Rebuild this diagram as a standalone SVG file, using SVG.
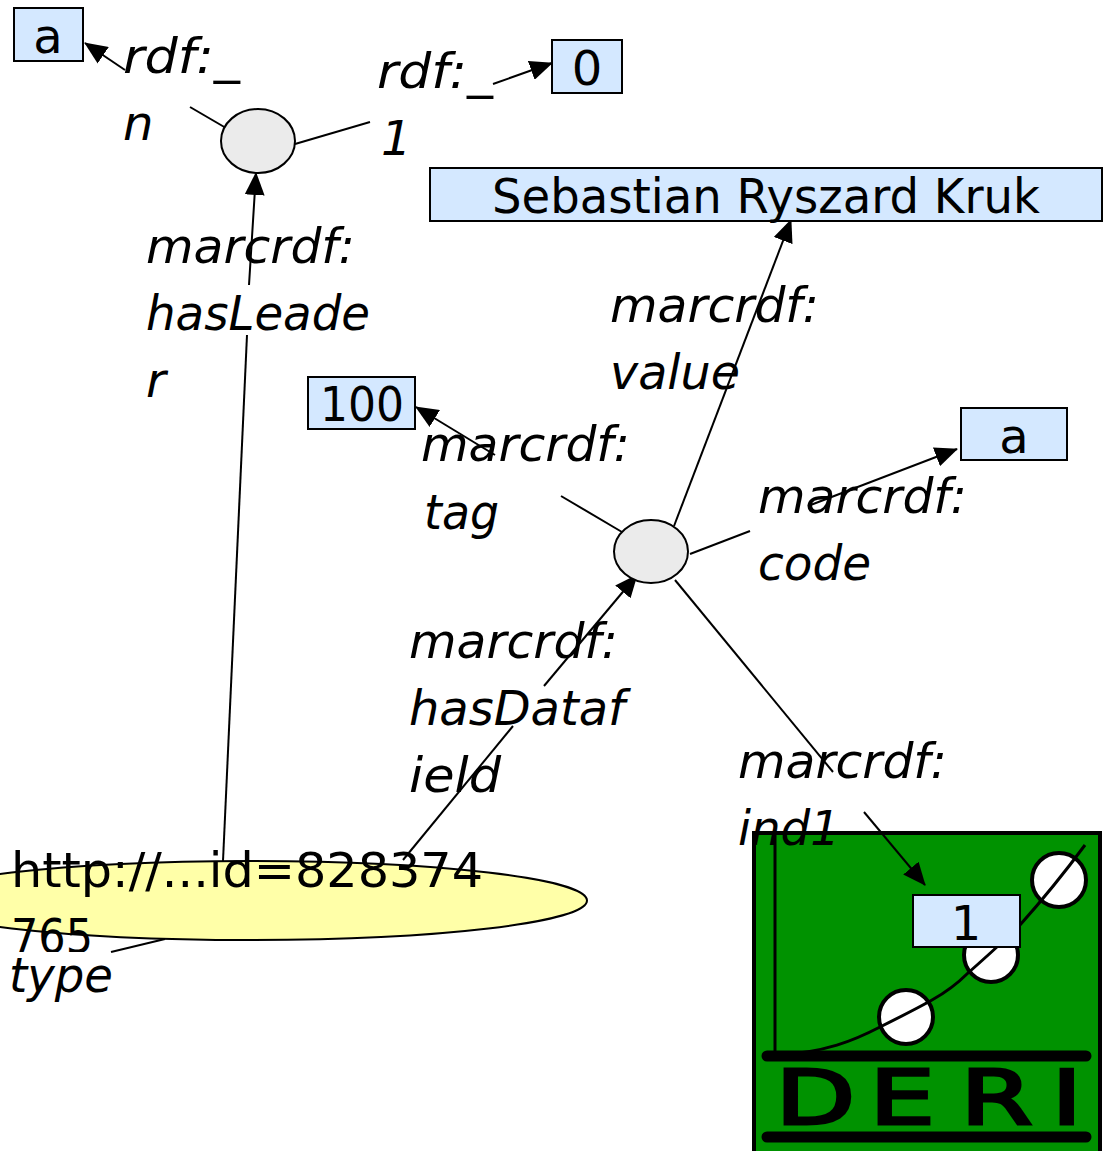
<svg xmlns="http://www.w3.org/2000/svg" width="1104" height="1151" viewBox="0 0 1104 1151">
<defs><marker id="arr" markerUnits="userSpaceOnUse" markerWidth="24" markerHeight="20" refX="22" refY="10" orient="auto"><path d="M0 0L23 10L0 20Z" fill="#000"/></marker>
<clipPath id="c765"><rect x="0" y="900" width="200" height="52"/></clipPath></defs>
<style>
.t{font-family:"DejaVu Sans",sans-serif;font-size:48px;fill:#000}
.i{font-style:italic}
.l{stroke:#000;stroke-width:2;fill:none}
.a{marker-end:url(#arr)}
.b{fill:#d4e8ff;stroke:#000;stroke-width:2}
.n{fill:#ebebeb;stroke:#000;stroke-width:2}
.k{stroke:#000;fill:none}
</style>
<rect width="1104" height="1151" fill="#fff"/>
<g id="logo">
<rect x="754" y="833" width="346" height="320" fill="#009200" stroke="#000" stroke-width="4"/>
<path class="k" stroke-width="3" d="M775 832V1056"/>
<g fill="#fff" stroke="#000" stroke-width="4"><circle cx="906" cy="1017" r="27"/><circle cx="991" cy="955" r="27"/><circle cx="1059" cy="880" r="27"/></g>
<path class="k" stroke-width="3" d="M775 1055C825 1053 855 1040 880 1027C900 1017 918 1008 932 1000C950 990 960 981 968 973C985 958 1005 940 1020 925C1045 897 1065 872 1085 845"/>
<path class="k" stroke-width="11" stroke-linecap="round" d="M767 1056H1086M767 1137H1086"/>
<text transform="translate(0 1123.500) scale(1.4 1)" x="554 621 686 751" y="0" font-family="'DejaVu Sans',sans-serif" font-size="74" stroke="#000" stroke-width="3">DERI</text>
</g>
<g id="connectors">
<path class="l a" d="M125 70L85 43"/><path class="l" d="M190 107L226 128"/>
<path class="l" d="M295 144L370 122"/><path class="l a" d="M493 84L552 63"/>
<path class="l" d="M223 861L247 335"/><path class="l a" d="M249 285L256 173"/>
<path class="l a" d="M674 526L791 220"/>
<path class="l" d="M622 532L561 496"/><path class="l a" d="M495 455L416 407"/>
<path class="l" d="M690 554L750 531"/><path class="l a" d="M808 506L957 449"/>
<path class="l" d="M675 580L833 772"/><path class="l a" d="M864 812L925 885"/>
<path class="l" d="M403 860L513 726"/><path class="l a" d="M544 686L637 575"/>
<path class="l" d="M111 952L165 939"/>
</g>
<g id="node-resource"><ellipse cx="250" cy="900.500" rx="337" ry="39.500" fill="#ffffa8" stroke="#000" stroke-width="2"/>
<text class="t" x="11" y="887" textLength="472" lengthAdjust="spacingAndGlyphs">http://...id=828374</text>
<text class="t" x="11" y="953" textLength="82" lengthAdjust="spacingAndGlyphs" clip-path="url(#c765)">765</text></g>
<g id="node-blank1"><ellipse class="n" cx="258" cy="141" rx="37" ry="32"/></g>
<g id="node-blank2"><ellipse class="n" cx="651" cy="551.500" rx="37" ry="31.500"/></g>
<g id="node-a1"><rect class="b" x="14" y="8" width="69" height="53"/><text class="t" x="48" y="53" text-anchor="middle">a</text></g>
<g id="node-0"><rect class="b" x="552" y="40" width="70" height="53"/><text class="t" x="587" y="85" text-anchor="middle">0</text></g>
<g id="node-name"><rect class="b" x="430" y="168" width="672" height="53"/><text class="t" x="492" y="213" textLength="548" lengthAdjust="spacingAndGlyphs">Sebastian Ryszard Kruk</text></g>
<g id="node-100"><rect class="b" x="308" y="377" width="107" height="52"/><text class="t" x="362" y="421" text-anchor="middle" textLength="84" lengthAdjust="spacingAndGlyphs">100</text></g>
<g id="node-a2"><rect class="b" x="961" y="408" width="106" height="52"/><text class="t" x="1014" y="453" text-anchor="middle">a</text></g>
<g id="node-1"><rect class="b" x="913" y="895" width="107" height="52"/><text class="t" x="966" y="940" text-anchor="middle">1</text></g>
<g id="labels" class="t i" lengthAdjust="spacingAndGlyphs">
<text x="123" y="73" textLength="117" lengthAdjust="spacingAndGlyphs">rdf:_</text><text x="123" y="140">n</text>
<text x="377" y="88" textLength="116" lengthAdjust="spacingAndGlyphs">rdf:_</text><text x="381" y="155">1</text>
<text x="146" y="263" textLength="209" lengthAdjust="spacingAndGlyphs">marcrdf:</text><text x="146" y="330" textLength="224" lengthAdjust="spacingAndGlyphs">hasLeade</text><text x="146" y="397">r</text>
<text x="610" y="322" textLength="209" lengthAdjust="spacingAndGlyphs">marcrdf:</text><text x="610" y="389" textLength="130" lengthAdjust="spacingAndGlyphs">value</text>
<text x="421" y="461" textLength="209" lengthAdjust="spacingAndGlyphs">marcrdf:</text><text x="424" y="529" textLength="75" lengthAdjust="spacingAndGlyphs">tag</text>
<text x="758" y="513" textLength="209" lengthAdjust="spacingAndGlyphs">marcrdf:</text><text x="758" y="580" textLength="113" lengthAdjust="spacingAndGlyphs">code</text>
<text x="409" y="658" textLength="209" lengthAdjust="spacingAndGlyphs">marcrdf:</text><text x="409" y="725" textLength="216" lengthAdjust="spacingAndGlyphs">hasDataf</text><text x="409" y="792" textLength="92" lengthAdjust="spacingAndGlyphs">ield</text>
<text x="738" y="778" textLength="209" lengthAdjust="spacingAndGlyphs">marcrdf:</text><text x="738" y="845" textLength="102" lengthAdjust="spacingAndGlyphs">ind1</text>
<text x="9" y="992" textLength="104" lengthAdjust="spacingAndGlyphs">type</text>
</g>
</svg>
